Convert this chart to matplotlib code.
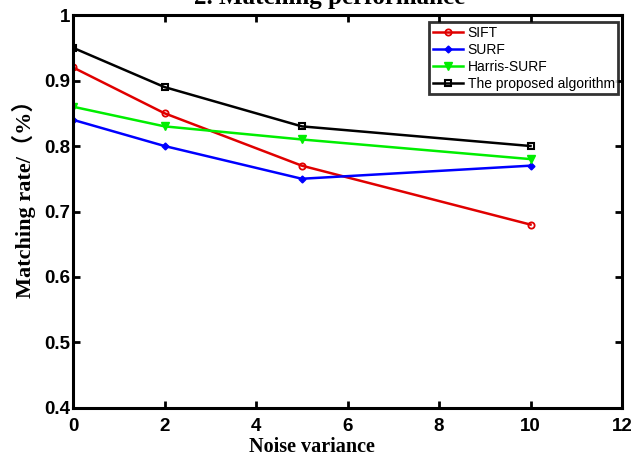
import matplotlib
matplotlib.use("Agg")
import matplotlib.pyplot as plt

x = [0, 2, 5, 10]
sift = [0.92, 0.85, 0.77, 0.68]
surf = [0.84, 0.80, 0.75, 0.77]
harris = [0.86, 0.83, 0.81, 0.78]
proposed = [0.95, 0.89, 0.83, 0.80]
labels = ["SIFT", "SURF", "Harris-SURF", "The proposed algorithm"]
xticks = [0, 2, 4, 6, 8, 10, 12]
yticks = [0.4, 0.5, 0.6, 0.7, 0.8, 0.9, 1]

fig = plt.figure(figsize=(6.41, 4.58), dpi=100)
ax = fig.add_axes([0.1139, 0.1092, 0.8565, 0.858])

ax.plot(x, sift, color="#e00000", lw=1.8, marker="o", ms=4.5, mfc="none", mec="#e00000", mew=1.3, label=labels[0])
ax.plot(x, surf, color="#0000ff", lw=1.8, marker="D", ms=3.5, mfc="#0000ff", mec="#0000ff", label=labels[1])
ax.plot(x, harris, color="#00ee00", lw=1.8, marker="v", ms=5.5, mfc="#00ee00", mec="#00ee00", label=labels[2])
ax.plot(x, proposed, color="black", lw=1.8, marker="s", ms=4.5, mfc="none", mec="black", mew=1.5, label=labels[3])

ax.set_xlim(0, 12)
ax.set_ylim(0.4, 1)
ax.set_xticks(xticks)
ax.set_xticklabels([str(t) for t in xticks])
ax.set_yticks(yticks)
ax.set_yticklabels(["0.4", "0.5", "0.6", "0.7", "0.8", "0.9", "1"])
ax.tick_params(direction="in", length=5, width=2, top=True, right=True, labelsize=13.5)
ax.tick_params(axis="x", pad=7)
ax.tick_params(axis="y", pad=2)
for lab in ax.get_xticklabels() + ax.get_yticklabels():
    lab.set_fontweight("bold")
    lab.set_family("Liberation Sans")
for s in ax.spines.values():
    s.set_linewidth(2.2)

ax.set_xlabel("Noise variance", family="Liberation Serif", fontweight="bold", fontsize=14.5)
ax.xaxis.set_label_coords(0.436, -0.075)
ax.set_ylabel("Matching rate/（%）", family=["Liberation Serif", "Noto Sans CJK SC"], fontweight="bold", fontsize=16)
ax.yaxis.set_label_coords(-0.068, 0.545)

fig.text(0.515, 1.006, "2. Matching performance", ha="center", va="center",
         family="Liberation Serif", fontweight="bold", fontsize=18)

leg = ax.legend(loc="upper right", bbox_to_anchor=(0.993, 0.982), fancybox=False, frameon=True,
                prop={"family": "Liberation Sans", "size": 10}, handlelength=2.2,
                borderpad=0.25, labelspacing=0.22, handletextpad=0.3, borderaxespad=0.0)
leg.get_frame().set_edgecolor("black")
leg.get_frame().set_linewidth(2)

fig.savefig("out.png", dpi=100)
